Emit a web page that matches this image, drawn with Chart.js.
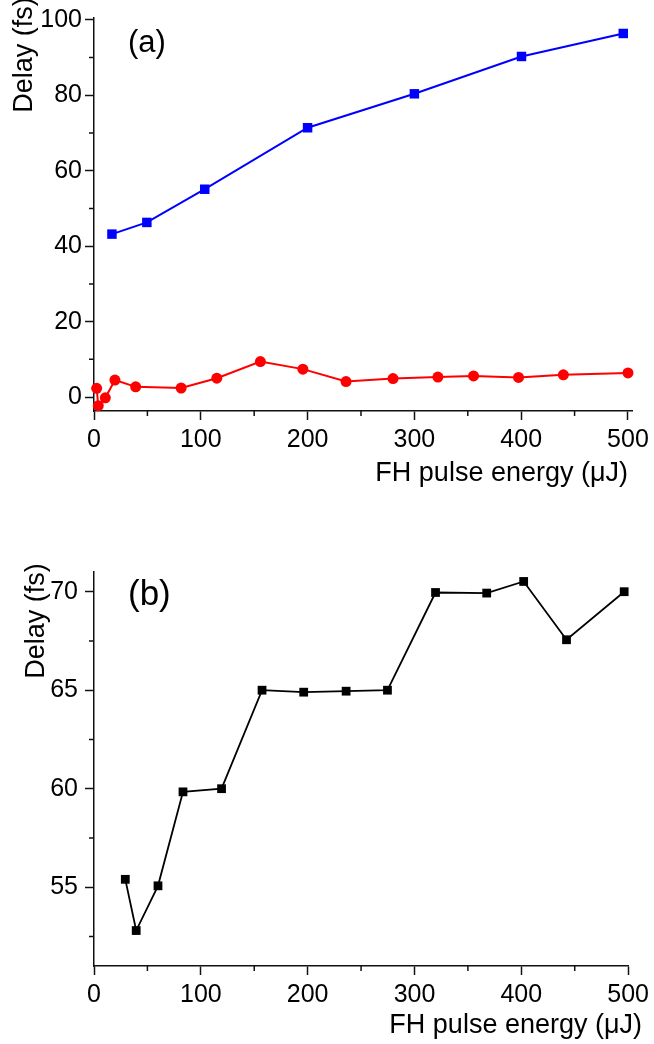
<!DOCTYPE html>
<html lang="en">
  <head>
    <meta charset="UTF-8" />
    <title>Delay vs FH pulse energy</title>
    <script src="https://cdn.jsdelivr.net/npm/chart.js"></script>
    <style>
      html, body { margin: 0; padding: 0; background: #fff; }
      #wrap { position: relative; width: 654px; height: 1044px; }
      #chartA { position: absolute; left: 0; top: 0; }
      #chartB { position: absolute; left: 0; top: 500px; }
    </style>
  </head>
  <body>
    <div id="wrap">
      <canvas id="chartA" width="654" height="500"></canvas>
      <canvas id="chartB" width="654" height="544"></canvas>
    </div>

    <script>
      // panel (a) - blue squares
      const blueX = [16.8, 49.5, 103.7, 200, 300, 400.3, 495.6];
      const blueY = [43.2, 46.3, 55.1, 71.4, 80.4, 90.3, 96.4];
      // panel (a) - red circles
      const redX = [2.5, 4, 10.6, 19.6, 39, 81.6, 115, 155.8, 195.6, 236, 280, 322, 355.4, 397.5, 439.5, 500];
      const redY = [2.3, -2.3, -0.2, 4.5, 2.7, 2.4, 5.0, 9.4, 7.4, 4.1, 4.9, 5.3, 5.6, 5.2, 5.9, 6.4];
      // panel (b) - black squares
      const blackX = [29.3, 39.5, 59.9, 83.3, 119.4, 157.3, 196.3, 236, 274.7, 319.7, 367.6, 402.2, 442.3, 496.3];
      const blackY = [55.4, 52.8, 55.07, 59.84, 60.0, 65.0, 64.9, 64.95, 65.0, 69.96, 69.93, 70.52, 67.56, 70.0];

      const xTicks = [0, 100, 200, 300, 400, 500];
      const xMinor = [50, 150, 250, 350, 450];
      const yTicksA = [0, 20, 40, 60, 80, 100];
      const yMinorA = [10, 30, 50, 70, 90];
      const yTicksB = [55, 60, 65, 70];
      const yMinorB = [52.5, 57.5, 62.5, 67.5];

      const xTitle = 'FH pulse energy (\u03BCJ)';
      const yTitle = 'Delay (fs)';
      const FONT = '"Liberation Sans", Arial, sans-serif';

      const pts = (xs, ys) => xs.map((x, i) => ({ x: x, y: ys[i] }));

      // short minor ticks, drawn through the scales
      const minorTicks = {
        id: 'minorTicks',
        afterDraw(chart, args, opts) {
          const ctx = chart.ctx;
          const xs = chart.scales.x, ys = chart.scales.y;
          ctx.save();
          ctx.strokeStyle = '#111';
          ctx.lineWidth = 1.5;
          ctx.beginPath();
          opts.x.forEach(v => {
            const px = xs.getPixelForValue(v);
            ctx.moveTo(px, xs.top);
            ctx.lineTo(px, xs.top + 5);
          });
          opts.y.forEach(v => {
            const py = ys.getPixelForValue(v);
            ctx.moveTo(ys.right, py);
            ctx.lineTo(ys.right - 5, py);
          });
          ctx.stroke();
          ctx.restore();
        }
      };

      // axis titles and panel label
      const textLabels = {
        id: 'textLabels',
        afterDraw(chart, args, o) {
          const ctx = chart.ctx;
          ctx.save();
          ctx.fillStyle = '#000';
          ctx.textBaseline = 'alphabetic';
          ctx.font = o.panelSize + 'px ' + FONT;
          ctx.textAlign = 'left';
          ctx.fillText(o.panel, o.panelX, o.panelY);
          ctx.font = '27px ' + FONT;
          ctx.textAlign = 'right';
          ctx.fillText(xTitle, o.xRight, o.xBase);
          ctx.translate(o.yBase, o.yMid);
          ctx.rotate(-Math.PI / 2);
          ctx.textAlign = 'center';
          ctx.fillText(yTitle, 0, 0);
          ctx.restore();
        }
      };

      function makeScales(xMax, yMin, yMax, yTicks, xHeight, yPad) {
        const axisCommon = {
          type: 'linear',
          border: { display: true, color: '#111', width: 1.5 },
          grid: { display: true, drawOnChartArea: false, drawTicks: true, tickLength: 9, tickColor: '#111', tickWidth: 1.5 }
        };
        return {
          x: Object.assign({}, axisCommon, {
            min: 0, max: xMax,
            afterBuildTicks: s => { s.ticks = xTicks.map(v => ({ value: v })); },
            afterFit: s => { s.height = xHeight; },
            ticks: { color: '#000', padding: 5, maxRotation: 0, autoSkip: false, font: { family: FONT, size: 25 } }
          }),
          y: Object.assign({}, axisCommon, {
            min: yMin, max: yMax,
            afterBuildTicks: s => { s.ticks = yTicks.map(v => ({ value: v })); },
            afterFit: s => { s.width = 94; },
            ticks: { color: '#000', padding: yPad, autoSkip: false, font: { family: FONT, size: 25 } }
          })
        };
      }

      new Chart(document.getElementById('chartA'), {
        type: 'line',
        data: {
          datasets: [
            {
              data: pts(blueX, blueY),
              borderColor: '#0000ff', backgroundColor: '#0000ff', borderWidth: 2,
              pointStyle: 'rect', pointRadius: 6.7, pointBorderWidth: 0,
              tension: 0, clip: false
            },
            {
              data: pts(redX, redY),
              borderColor: '#ff0000', backgroundColor: '#ff0000', borderWidth: 2,
              pointStyle: 'circle', pointRadius: 5.5, pointBorderWidth: 0,
              tension: 0, clip: false
            }
          ]
        },
        options: {
          responsive: false,
          animation: false,
          layout: { padding: { top: 17, right: 21, left: 0, bottom: 0 } },
          scales: makeScales(504, -3.7, 100.5, yTicksA, 89, 3),
          plugins: {
            legend: { display: false },
            tooltip: { enabled: false },
            minorTicks: { x: xMinor, y: yMinorA },
            textLabels: { panel: '(a)', panelSize: 31, panelX: 128, panelY: 52, xRight: 628, xBase: 481, yBase: 32, yMid: 55 }
          }
        },
        plugins: [minorTicks, textLabels]
      });

      new Chart(document.getElementById('chartB'), {
        type: 'line',
        data: {
          datasets: [
            {
              data: pts(blackX, blackY),
              borderColor: '#000', backgroundColor: '#000', borderWidth: 1.8,
              pointStyle: 'rect', pointRadius: 6.2, pointBorderWidth: 0,
              tension: 0, clip: false
            }
          ]
        },
        options: {
          responsive: false,
          animation: false,
          layout: { padding: { top: 72, right: 20, left: 0, bottom: 0 } },
          scales: makeScales(500, 51, 71, yTicksB, 78, 7),
          plugins: {
            legend: { display: false },
            tooltip: { enabled: false },
            minorTicks: { x: xMinor, y: yMinorB },
            textLabels: { panel: '(b)', panelSize: 35, panelX: 128, panelY: 105, xRight: 642, xBase: 533, yBase: 44, yMid: 121 }
          }
        },
        plugins: [minorTicks, textLabels]
      });
    </script>
  </body>
</html>
